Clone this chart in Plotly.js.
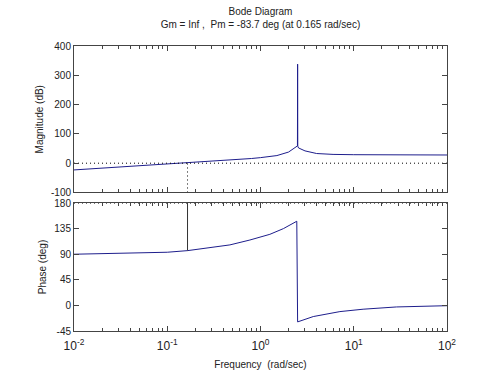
<!DOCTYPE html>
<html>
<head>
<meta charset="utf-8">
<script src="https://cdn.plot.ly/plotly-3.0.1.min.js"></script>
<style>html,body{margin:0;padding:0;background:#fff;}#chart{width:494px;height:374px;}</style>
</head>
<body>
<div id="chart"></div>
<script>
// Magnitude response (rad/sec, dB)
const magFreq = [0.01, 0.02, 0.05, 0.1, 0.165, 0.3, 0.5, 0.8, 1, 1.5, 2, 2.3, 2.44, 2.49, 2.5, 2.51, 2.56, 3, 4, 6, 10, 30, 100];
const magDb   = [-23, -17, -8, -3, 0, 7, 11, 16, 19, 26, 38, 50, 57, 59, 338, 58, 52, 42, 33, 30, 29, 28, 28];
// Phase response (rad/sec, deg)
const phFreq = [0.01, 0.02, 0.05, 0.1, 0.165, 0.287, 0.47, 0.77, 1.26, 1.76, 2.16, 2.45, 2.5, 3, 3.68, 7.1, 12.6, 28.7, 100];
const phDeg  = [90, 90.8, 92, 93.5, 96.3, 101.8, 106.4, 115, 125, 135, 144, 148, -29, -24.4, -19.6, -10.9, -6.7, -2.7, -0.5];
// Margins
const crossFreq = 0.165;
const crossPhase = 96.3;
const xRange = [0.01, 100];
const freqTicks = [0.01, 0.1, 1, 10, 100];
const freqTickText = ['10<sup>-2</sup>', '10<sup>-1</sup>', '10<sup>0</sup>', '10<sup>1</sup>', '10<sup>2</sup>'];
const magTicks = [-100, 0, 100, 200, 300, 400];
const phaseTicks = [-45, 0, 45, 90, 135, 180];
const titleLines = ['Bode Diagram', 'Gm = Inf ,  Pm = -83.7 deg (at 0.165 rad/sec)'];

const lineBlue = '#1e1e8c';
const font = {family: 'Liberation Sans, Arial, sans-serif', size: 10, color: '#222'};
const dotted = {color: '#000', width: 1, dash: '1px,3px'};

const traces = [
  {x: magFreq, y: magDb, xaxis: 'x2', yaxis: 'y2', mode: 'lines', line: {color: lineBlue, width: 1}},
  {x: xRange, y: [0, 0], xaxis: 'x2', yaxis: 'y2', mode: 'lines', line: dotted},
  {x: [crossFreq, crossFreq], y: [magTicks[0], 0], xaxis: 'x2', yaxis: 'y2', mode: 'lines', line: dotted},
  {x: phFreq, y: phDeg, xaxis: 'x', yaxis: 'y', mode: 'lines', line: {color: lineBlue, width: 1}},
  {x: xRange, y: [180, 180], xaxis: 'x', yaxis: 'y', mode: 'lines', line: dotted},
  {x: [crossFreq, crossFreq], y: [crossPhase, 180], xaxis: 'x', yaxis: 'y', mode: 'lines', line: {color: '#333', width: 1}}
];

const logRange = xRange.map(v => Math.log10(v));
const xCommon = {
  type: 'log', range: logRange, tickmode: 'array', tickvals: freqTicks, ticktext: freqTickText,
  showline: true, linecolor: '#444', linewidth: 1, mirror: 'allticks',
  ticks: 'inside', ticklen: 5, tickcolor: '#444', showgrid: false, zeroline: false,
  minor: {ticks: 'inside', ticklen: 3, tickcolor: '#444', showgrid: false, dtick: 'D1'},
  tickfont: {family: font.family, size: 12, color: '#222'}
};
const yCommon = {
  showline: true, linecolor: '#444', linewidth: 1, mirror: 'allticks',
  ticks: 'inside', ticklen: 5, tickcolor: '#444', showgrid: false, zeroline: false,
  tickfont: font
};

const layout = {
  width: 494, height: 374,
  paper_bgcolor: '#fff', plot_bgcolor: '#fff',
  showlegend: false,
  margin: {l: 74, r: 47, t: 46, b: 43},
  font: font,
  title: {
    text: titleLines.join('<br>'), font: font,
    x: 260.5 / 494, xanchor: 'center', xref: 'container',
    y: 1 - 15 / 374, yanchor: 'top', yref: 'container'
  },
  xaxis: Object.assign({}, xCommon, {anchor: 'y', domain: [0, 1], ticklabelstandoff: 4,
    title: {text: 'Frequency  (rad/sec)', font: font, standoff: 8}}),
  xaxis2: Object.assign({}, xCommon, {anchor: 'y2', matches: 'x', showticklabels: false, domain: [0, 1]}),
  yaxis: Object.assign({}, yCommon, {anchor: 'x', domain: [0, 0.449], range: [phaseTicks[0], phaseTicks[phaseTicks.length - 1]],
    tickvals: phaseTicks, ticktext: phaseTicks.map(String),
    title: {text: 'Phase (deg)', font: font, standoff: 5}}),
  yaxis2: Object.assign({}, yCommon, {anchor: 'x2', domain: [0.486, 1], range: [magTicks[0], magTicks[magTicks.length - 1]],
    tickvals: magTicks, ticktext: magTicks.map(String),
    title: {text: 'Magnitude (dB)', font: font, standoff: 5}})
};

Plotly.newPlot('chart', traces, layout, {staticPlot: true, displayModeBar: false});
</script>
</body>
</html>
